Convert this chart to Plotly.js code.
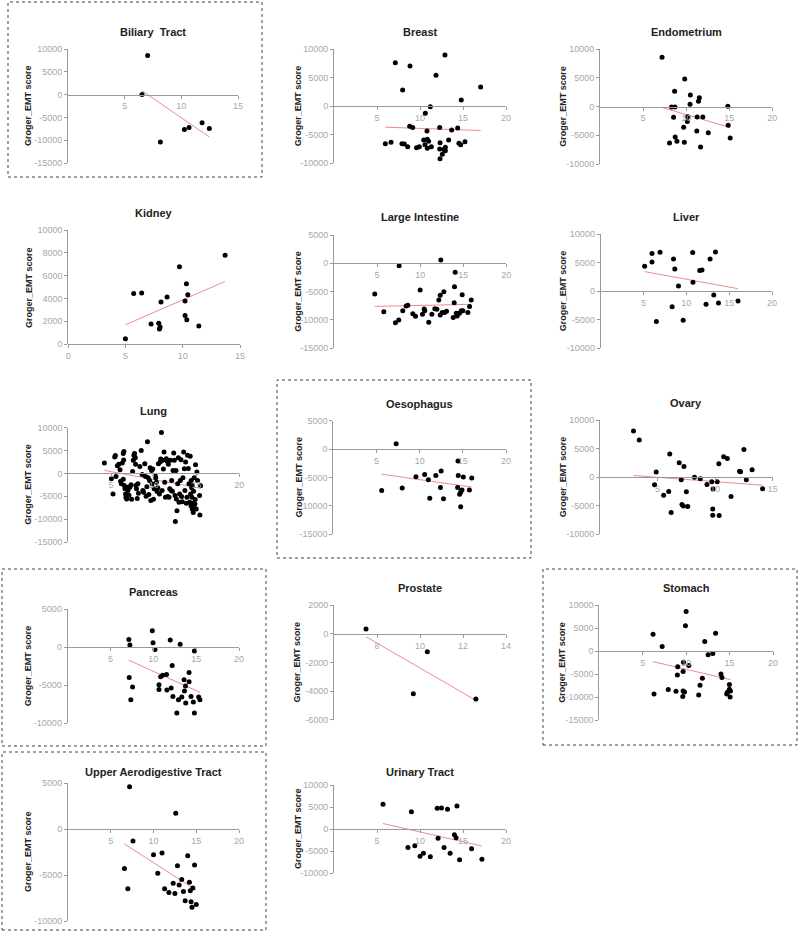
<!DOCTYPE html>
<html><head><meta charset="utf-8">
<script src="https://cdn.plot.ly/plotly-3.0.1.min.js"></script>
<style>html,body{margin:0;padding:0;background:#fff}#chart{width:800px;height:932px}</style>
</head><body><div id="chart"></div>
<script>
// ---------- DATA ----------
const titles = ["Biliary  Tract","Breast","Endometrium","Kidney","Large Intestine","Liver","Lung","Oesophagus","Ovary","Pancreas","Prostate","Stomach","Upper Aerodigestive Tract","Urinary Tract"];
const yTitle = "Groger_EMT score";

const biliaryX = [6.53,7.03,8.15,10.27,10.68,11.83,12.47];
const biliaryY = [0,8550,-10370,-7680,-7240,-6200,-7460];

const breastX = [7.13,8.84,7.98,11.86,12.9,17.05,14.8,11.2,10.62,8.8,9.15,10.81,12.29,13.68,14.38,5.97,6.63,7.9,8.18,8.57,9.6,9.92,10.43,10.58,10.85,11.0,10.85,11.32,12.33,13.33,12.29,12.75,12.95,12.95,12.6,12.33,14.53,14.73,15.23];
const breastY = [7660,7080,2870,5440,9010,3390,1110,-60,-1230,-3510,-3740,-4330,-3740,-4150,-3800,-6550,-6320,-6550,-6610,-7080,-7250,-7080,-5910,-6730,-5790,-6140,-7370,-7080,-6380,-5910,-7490,-7600,-7200,-7780,-8420,-9180,-6490,-6730,-6200];

const endoX = [7.2,9.83,8.66,10.49,11.53,11.43,10.45,8.3,8.7,14.84,8.54,10.18,11.28,11.94,10.14,9.71,14.88,11.24,12.57,8.73,8.93,8.07,9.79,15.11,11.67];
const endoY = [8600,4820,2670,2030,1570,930,400,-60,-60,60,-1860,-1740,-1800,-1800,-2610,-3600,-3250,-4240,-4530,-5290,-6040,-6330,-6220,-5460,-7030];

const kidneyX = [4.99,5.71,6.41,7.23,7.9,8.02,7.96,8.1,8.63,9.71,10.2,10.32,10.44,10.2,10.35,11.4,13.7];
const kidneyY = [470,4420,4470,1750,1810,1490,1320,3680,4120,6780,3770,5290,4330,2490,2130,1580,7780];

const largeX = [4.73,5.78,7.56,7.13,7.52,7.98,8.37,8.57,9.15,9.46,10.0,10.27,10.47,10.54,11.0,11.36,11.7,11.94,12.17,12.33,12.4,12.33,12.56,12.75,12.83,13.06,13.99,14.07,13.95,13.84,14.19,14.3,14.57,14.77,14.88,14.96,15.54,15.74,15.93];
const largeY = [-5410,-8530,-410,-10470,-10000,-8350,-7530,-7410,-8880,-9350,-4700,-9000,-8060,-8350,-10400,-9000,-8000,-8110,-6470,-5640,590,-9110,-8700,-5000,-8700,-8470,-4120,-1590,-6940,-9580,-8820,-9290,-8820,-8350,-5530,-8350,-8700,-7640,-6470];

const liverX = [5.13,5.99,5.99,6.93,6.5,8.5,8.65,9.08,8.34,9.63,10.74,10.77,11.56,11.83,12.77,13.4,13.2,12.3,13.75,16.03];
const liverY = [4390,6610,5150,6840,-5320,5670,3920,940,-2690,-5090,6790,1580,3630,3740,5670,6900,-640,-2280,-2050,-1700];

const lungX = [4.22,5.04,5.23,5.43,5.5,5.58,5.74,5.9,6.05,6.12,6.2,6.32,6.43,6.47,6.5,6.43,6.55,6.63,6.7,6.74,6.82,6.9,6.98,7.09,7.2,7.33,7.4,7.52,7.6,7.67,7.75,7.83,7.87,7.9,7.98,8.06,8.14,8.2,8.37,8.53,8.64,8.72,8.8,8.95,9.03,9.1,9.19,9.26,9.34,9.42,9.5,9.57,9.65,9.73,9.8,9.88,9.96,10.04,10.16,10.23,10.31,10.39,10.47,10.54,10.66,10.74,10.81,10.89,10.97,11.05,11.12,11.2,11.28,11.36,11.47,11.55,11.63,11.7,11.78,11.86,11.94,12.02,12.09,12.17,12.25,12.33,12.4,12.48,12.52,12.6,12.64,12.71,12.79,12.87,12.95,13.02,13.1,13.18,13.26,13.33,13.41,13.49,13.57,13.64,13.72,13.8,13.88,13.95,14.03,14.11,14.19,14.26,14.3,14.34,14.38,14.42,14.46,14.5,14.53,14.57,14.61,14.65,14.69,14.73,14.81,14.84,14.88,14.96,15.04,15.12,15.35,15.39,15.47];
const lungY = [2280,-1180,-4480,3600,3900,-660,1690,1980,810,-1690,-2280,2280,4340,2940,4780,-1250,-2650,-3380,-4480,-5220,-5590,-3010,-3750,-4780,-3010,-2500,-5660,440,2870,3970,4340,3450,1980,-2650,-3380,-5510,-2280,-4340,1540,5000,-220,-3750,-4120,2130,-660,-5000,-2940,6910,-960,-4630,-1540,1250,-5950,660,-2280,960,-5660,-3380,-440,-960,-1910,-3970,-3160,2130,-4480,2500,3160,8970,-3750,2870,960,4700,-1910,-5220,3230,2720,-5070,1980,-5220,-3380,2870,-3750,-1540,-3900,660,4480,2870,-4850,-10510,660,-5590,-8160,-2280,3450,-6320,-4480,-1540,3010,-5070,-6180,-960,4700,1030,-3750,2500,-6540,-5220,3970,1100,-2280,-6320,3750,-4480,-7060,-1540,-3160,-5220,-7790,-2650,-6540,-8530,-3900,-7420,-960,-6690,-5730,1910,-7790,290,-1540,-4850,-9110,-2720];

const oesoX = [5.6,7.28,7.98,9.57,10.58,11.01,11.17,11.87,12.49,12.41,12.76,14.44,14.47,14.4,14.63,14.75,14.9,15.06,14.75,15.76,16.03];
const oesoY = [-7270,940,-6860,-4860,-4450,-5390,-8670,-4630,-3870,-6740,-8730,-2110,-4630,-6740,-7970,-7560,-7210,-4920,-10140,-7210,-5100];

const ovaryX = [2.91,3.41,4.74,4.88,5.53,5.97,6.06,6.18,6.88,7.06,7.12,7.24,7.29,7.5,7.62,8.21,8.71,9.29,9.71,9.82,9.79,9.79,10.18,10.32,10.35,10.74,11.06,11.38,12.12,12.21,12.5,12.71,13.21,14.12];
const ovaryY = [8070,6490,-1350,880,-3160,-2520,4040,-6200,2520,-470,-4800,-5030,1870,-2570,-5150,0,-290,-1290,-820,-2050,-5560,-6670,-820,2340,-6730,3570,3280,-3390,1050,940,4860,-470,1290,-2050];

const pancX = [7.14,7.26,7.18,7.57,7.37,9.88,9.96,10.19,10.66,10.66,10.85,11.08,11.54,11.58,11.97,12.08,12.2,12.28,12.74,12.93,13.13,13.32,13.59,13.63,13.75,13.78,14.17,14.17,14.4,14.67,14.79,14.79,15.29,15.44];
const pancY = [1000,260,-3980,-5240,-6900,2140,570,-310,-4940,-5550,-3890,-3710,-3580,-5640,920,-5380,-2400,-6470,-8650,-6900,390,-6550,-4280,-5770,-5110,-7340,-3320,-4540,-6470,-7210,-520,-8650,-6550,-6900];

const prostX = [7.49,9.69,10.34,12.6];
const prostY = [350,-4190,-1240,-4560];

const stomX = [6.19,6.3,7.24,7.94,8.83,9.03,8.99,9.65,9.69,9.65,9.81,9.61,9.92,10.0,10.31,11.44,11.6,11.87,12.14,12.53,13.07,13.39,14.01,14.12,14.98,14.98,15.1,14.75,14.67,15.06];
const stomY = [3710,-9320,1020,-8370,-8740,-3420,-5170,-4440,-2400,-8660,-8880,-9900,5530,8660,-3130,-9540,-7430,-5900,2110,-800,-510,3930,-4950,-5750,-7280,-8300,-8660,-8950,-9320,-9970];

const uadtX = [7.2,6.6,7.0,7.6,10.0,10.5,11.0,11.3,11.8,12.3,12.5,12.6,12.8,13.0,13.3,13.5,13.7,14.0,14.2,14.4,14.5,14.6,14.8,15.0,14.3];
const uadtY = [4600,-4300,-6500,-1300,-2800,-4800,-2600,-6500,-6900,-5900,-7000,1700,-4000,-6100,-5500,-6800,-7800,-2900,-5800,-7900,-8500,-6400,-3900,-8200,-6700];

const urinX = [5.7,9.0,8.6,9.4,10.0,11.2,12.0,12.5,13.2,14.3,12.1,12.8,13.5,14.0,14.2,14.6,16.0,17.2,10.4];
const urinY = [5600,3900,-4200,-3800,-6200,-6300,4700,4800,4500,5200,-2100,-4200,-5500,-1300,-2000,-7000,-4500,-6900,-5500];

const xData = [biliaryX,breastX,endoX,kidneyX,largeX,liverX,lungX,oesoX,ovaryX,pancX,prostX,stomX,uadtX,urinX];
const yData = [biliaryY,breastY,endoY,kidneyY,largeY,liverY,lungY,oesoY,ovaryY,pancY,prostY,stomY,uadtY,urinY];

// axis ranges and ticks
const xRanges = [[0,15],[0,20],[0,20],[0,15],[0,20],[0,20],[0,20],[0,20],[0,15],[0,20],[6,14],[0,20],[0,20],[0,20]];
const xTicks = [[5,10,15],[5,10,15,20],[5,10,15,20],[0,5,10,15],[5,10,15,20],[5,10,15,20],[5,10,15,20],[5,10,15,20],[5,10,15],[5,10,15,20],[8,10,12,14],[5,10,15,20],[5,10,15,20],[5,10,15,20]];
const yRanges = [[-15000,10000],[-10000,10000],[-10000,10000],[0,10000],[-15000,5000],[-10000,10000],[-15000,10000],[-15000,5000],[-10000,10000],[-10000,5000],[-6000,2000],[-15000,10000],[-10000,5000],[-10000,10000]];
const yDticks = [5000,5000,5000,2000,5000,5000,5000,5000,5000,5000,2000,5000,5000,5000];

// ---------- LAYOUT (pixels) ----------
const W = 800, H = 932;
// [left, right, top, bottom] of each plot area
const geo = [
 [68,238,49,163],[334,506,49.3,163.3],[600,772.3,49.3,164],
 [68.3,240,230,344],[334,506.3,235,348.3],[600.7,772,234.3,348.3],
 [68.3,239.3,427.7,542],[333.3,506,420.7,534.3],[600,772.7,420,534.3],
 [67.7,239,609,723.3],[334,506,605.3,719.7],[599.3,773,605.3,720],
 [68,239,783,921],[334,506,785,873]
];
const titleY = [32,32,32,213,217,217,411,404,403,592,588,588,772,772];
const yTitleX = [28,298,563,29,298,563,28,298,563,28,296,562,28,298];
const boxes = [[8,2,262,177],[277,380,531,558],[2,569,266,746],[543,569,797,745],[2,752,266,930]];

const axisColor = '#9a9a9a', tickFontColor = '#a8a8a8';
const font = 'Liberation Sans, Arial, sans-serif';

const traces = [], layout = {
  width: W, height: H, margin: {l:0,r:0,t:0,b:0},
  paper_bgcolor: '#fff', plot_bgcolor: 'rgba(0,0,0,0)',
  showlegend: false, annotations: [], shapes: []
};

function fit(xs, ys){
  const n = xs.length;
  const mx = xs.reduce((a,b)=>a+b,0)/n, my = ys.reduce((a,b)=>a+b,0)/n;
  let sxy=0, sxx=0;
  for(let i=0;i<n;i++){ sxy+=(xs[i]-mx)*(ys[i]-my); sxx+=(xs[i]-mx)*(xs[i]-mx); }
  const b = sxy/sxx, a = my - b*mx;
  const x0 = Math.min(...xs), x1 = Math.max(...xs);
  return {x:[x0,x1], y:[a+b*x0, a+b*x1]};
}

for(let i=0;i<14;i++){
  const k = i+1, xa = 'x'+k, ya = 'y'+k;
  const [L,R,T,B] = geo[i];
  const yr = yRanges[i];
  const yDom = [1-B/H, 1-T/H];
  const zeroFrac = yDom[0] + (0 - yr[0])/(yr[1]-yr[0])*(yDom[1]-yDom[0]);
  layout['xaxis'+k] = {
    domain:[L/W, R/W], range: xRanges[i], tickmode:'array', tickvals: xTicks[i], ticktext: xTicks[i].map(String),
    showline:true, linecolor:axisColor, linewidth:1, ticks:'outside', ticklen:3, tickcolor:axisColor,
    tickfont:{family:font,size:9,color:tickFontColor}, showgrid:false, zeroline:false,
    anchor:'free', position: zeroFrac, fixedrange:true
  };
  const yt = [];
  for(let v=yr[0]; v<=yr[1]; v+=yDticks[i]) yt.push(v);
  layout['yaxis'+k] = {
    domain: yDom, range: yr, tickmode:'array', tickvals: yt, ticktext: yt.map(String),
    showline:true, linecolor:axisColor, linewidth:1, ticks:'outside', ticklen:3, tickcolor:axisColor,
    tickfont:{family:font,size:9,color:tickFontColor}, showgrid:false, zeroline:false,
    anchor: xa, fixedrange:true
  };
  const f = fit(xData[i], yData[i]);
  traces.push({type:'scatter', mode:'lines', x:f.x, y:f.y, xaxis:xa, yaxis:ya,
    line:{color:'#f08a8a', width:1}, hoverinfo:'skip', cliponaxis:false});
  traces.push({type:'scatter', mode:'markers', x:xData[i], y:yData[i], xaxis:xa, yaxis:ya,
    marker:{color:'#000', size:5}, cliponaxis:false});
  layout.annotations.push({xref:'paper', yref:'paper', x:(L+R)/2/W, y:1-titleY[i]/H,
    text:'<b>'+titles[i]+'</b>', showarrow:false, xanchor:'center', yanchor:'middle',
    font:{family:font, size:11, color:'#222'}});
  layout.annotations.push({xref:'paper', yref:'paper', x:yTitleX[i]/W, y:1-(T+B)/2/H,
    text:'<b>'+yTitle+'</b>', showarrow:false, xanchor:'center', yanchor:'middle', textangle:-90,
    font:{family:font, size:9, color:'#222'}});
}
boxes.forEach(b=>{
  layout.shapes.push({type:'rect', xref:'paper', yref:'paper', x0:b[0]/W, x1:b[2]/W, y0:1-b[3]/H, y1:1-b[1]/H,
    line:{color:'#444', width:1, dash:'dot'}, fillcolor:'rgba(0,0,0,0)'});
});

Plotly.newPlot('chart', traces, layout, {staticPlot:true, displayModeBar:false});
</script>
</body></html>
